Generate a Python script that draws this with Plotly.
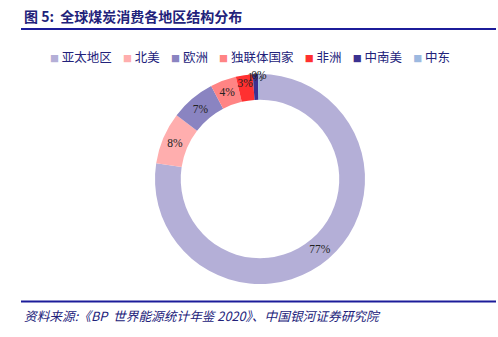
import plotly.graph_objects as go

labels = ["亚太地区", "北美", "欧洲", "独联体国家", "非洲", "中南美", "中东"]
values = [77.4, 8.0, 6.9, 4.0, 2.6, 0.8, 0.3]
colors = ["#B4AFD7", "#FFAEAE", "#8A84C1", "#FF8484", "#FF3030", "#3B3190", "#9DB9E0"]

title_text = "图 5:  全球煤炭消费各地区结构分布"
source_text = "资料来源:《BP  世界能源统计年鉴 2020》、中国银河证券研究院"
navy = "#22227A"

W, H = 498, 337
cx, cy, r = 260, 179, 105

texts = [f"{round(v)}%" for v in values]
serif = "Liberation Serif, Times New Roman, serif"

fig = go.Figure(go.Pie(
    labels=labels, values=values, text=texts, textinfo="text",
    sort=False, direction="clockwise", rotation=0, hole=0.755,
    marker=dict(colors=colors, line=dict(width=0)),
    textposition="inside", insidetextorientation="horizontal",
    textfont=dict(family=serif, size=11.5, color="#222222"),
    insidetextfont=dict(family=serif, size=11.5, color="#222222"),
    domain=dict(x=[(cx - r) / W, (cx + r) / W], y=[(H - cy - r) / H, (H - cy + r) / H]),
    showlegend=False,
))

legend_html = "&nbsp;&nbsp;&nbsp;&nbsp;".join(
    f'<span style="color:{c};font-size:9px">■</span> {l}' for l, c in zip(labels, colors)
)

fig.update_layout(
    width=W, height=H, margin=dict(l=0, r=0, t=0, b=0),
    paper_bgcolor="white", plot_bgcolor="white",
    uniformtext=dict(minsize=11.5, mode="show"),
    annotations=[
        dict(text=f"<b>{title_text}</b>", x=22 / W, y=1 - 16 / H, xref="paper", yref="paper",
             xanchor="left", yanchor="middle", showarrow=False,
             font=dict(family="Noto Sans CJK SC", size=14, color=navy)),
        dict(text=legend_html, x=250 / W, y=1 - 57 / H, xref="paper", yref="paper",
             xanchor="center", yanchor="middle", showarrow=False,
             font=dict(family="Noto Sans CJK SC", size=12.5, color=navy)),
        dict(text=f"<i>{source_text}</i>", x=22 / W, y=1 - 315 / H, xref="paper", yref="paper",
             xanchor="left", yanchor="middle", showarrow=False,
             font=dict(family="Noto Sans CJK SC", size=12.7, color=navy)),
    ],
    shapes=[
        dict(type="line", xref="paper", yref="paper", x0=21 / W, x1=496 / W,
             y0=1 - 29 / H, y1=1 - 29 / H, line=dict(color="#1C1C9A", width=2)),
        dict(type="line", xref="paper", yref="paper", x0=21 / W, x1=496 / W,
             y0=1 - 301.5 / H, y1=1 - 301.5 / H, line=dict(color="#1C1C9A", width=2)),
    ],
)

fig.write_html("out.html")
